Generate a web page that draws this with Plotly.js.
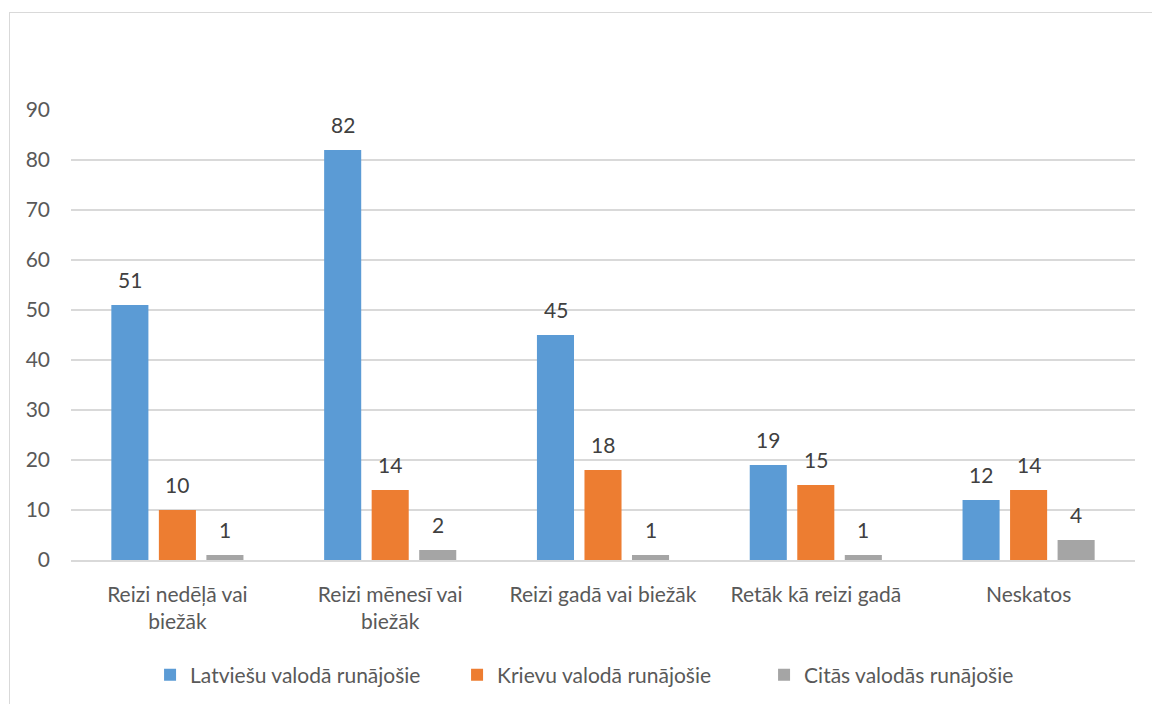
<!DOCTYPE html>
<html>
<head>
<meta charset="utf-8">
<script src="https://cdn.plot.ly/plotly-3.0.1.min.js"></script>
<style>
  html, body { margin:0; padding:0; background:#fff; }
  #wrap { position:absolute; left:0; top:0; width:1152px; height:704px; overflow:hidden; }
  #frame { position:absolute; left:9px; top:12px; width:1200px; height:800px; border:1.5px solid #d9d9d9; box-sizing:border-box; }
  #chart { position:absolute; left:0; top:0; width:1152px; height:704px; }
</style>
</head>
<body>
<div id="wrap">
  <div id="frame"></div>
  <div id="chart"></div>
</div>
<script>
const categories = ["Reizi nedēļā vai<br>biežāk", "Reizi mēnesī vai<br>biežāk", "Reizi gadā vai biežāk", "Retāk kā reizi gadā", "Neskatos"];
const seriesNames = ["Latviešu valodā runājošie", "Krievu valodā runājošie", "Citās valodās runājošie"];
const latvian = [51, 82, 45, 19, 12];
const russian = [10, 14, 18, 15, 14];
const other = [1, 2, 1, 1, 4];
const yTicks = [0, 10, 20, 30, 40, 50, 60, 70, 80, 90];

const colors = ["#5B9BD5", "#ED7D31", "#A5A5A5"];
const allSeries = [latvian, russian, other];
const FONT = "Lato, 'Open Sans', sans-serif";
const FS = 21;

const traces = allSeries.map((vals, i) => ({
  type: "bar",
  name: seriesNames[i],
  x: categories,
  y: vals,
  marker: { color: colors[i] },
  hoverinfo: "skip"
}));

const slot = 47.5;
const annotations = [];
allSeries.forEach((vals, i) => {
  vals.forEach((v, j) => {
    annotations.push({
      x: categories[j], y: v, xref: "x", yref: "y",
      text: String(v), showarrow: false,
      yanchor: "bottom", xanchor: "center",
      xshift: (i - 1) * slot, yshift: 11,
      font: { family: FONT, size: FS, color: "#404040" }
    });
  });
});

const layout = {
  width: 1152, height: 704,
  paper_bgcolor: "rgba(0,0,0,0)",
  plot_bgcolor: "rgba(0,0,0,0)",
  margin: { l: 71, r: 17, t: 110, b: 144 },
  barmode: "group",
  bargap: 0.33,
  bargroupgap: 0.22,
  font: { family: FONT, size: FS, color: "#595959" },
  xaxis: {
    type: "category",
    showgrid: false,
    showline: true, linecolor: "#d9d9d9", linewidth: 1.5,
    ticks: "", ticklabelstandoff: 15,
    tickfont: { family: FONT, size: FS, color: "#595959" },
    automargin: false,
    fixedrange: true
  },
  yaxis: {
    range: [0, 90],
    tickvals: yTicks,
    ticktext: yTicks.map(String),
    showgrid: true, gridcolor: "#d9d9d9", gridwidth: 1.5,
    zeroline: false, showline: false,
    ticks: "", ticklabelstandoff: 20,
    tickfont: { family: FONT, size: FS, color: "#595959" },
    automargin: false,
    fixedrange: true
  },
  showlegend: true,
  legend: {
    orientation: "h",
    xref: "container", yref: "container",
    x: 0.530, xanchor: "center",
    y: 0.041, yanchor: "middle",
    font: { family: FONT, size: FS, color: "#595959" },
    traceorder: "normal",
    itemwidth: 30,
    entrywidth: 262
  },
  annotations: annotations
};

Plotly.newPlot("chart", traces, layout, { displayModeBar: false, staticPlot: true });
</script>
</body>
</html>
